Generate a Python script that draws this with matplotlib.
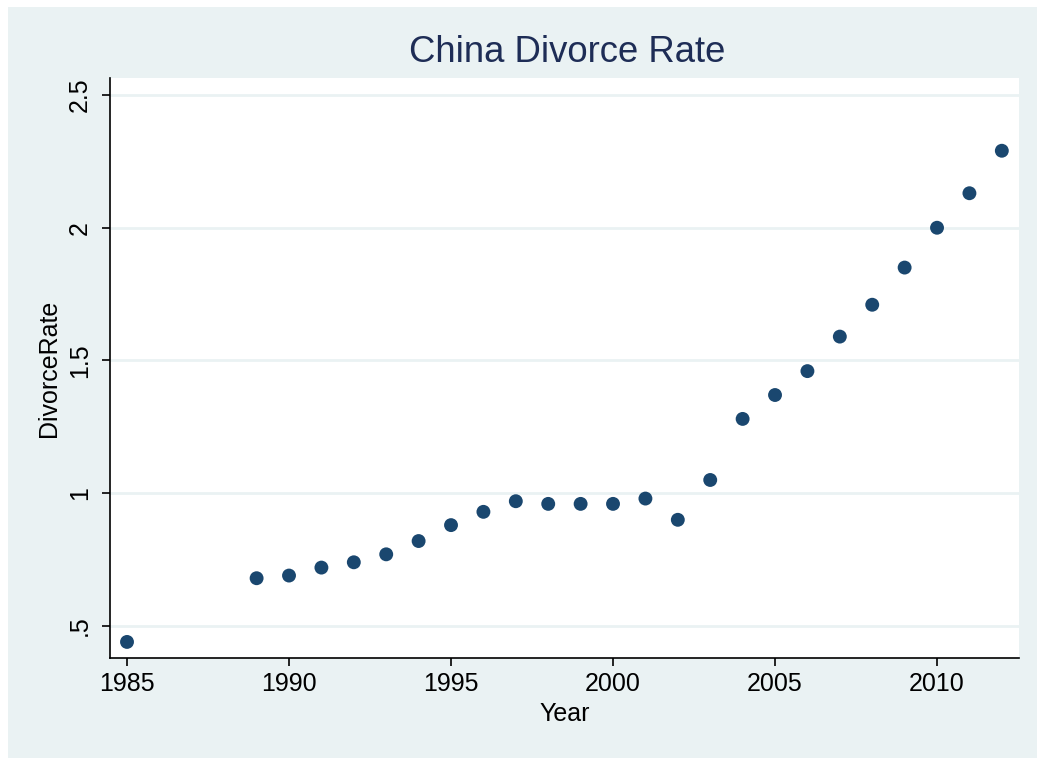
import matplotlib
matplotlib.use("Agg")
import matplotlib.pyplot as plt
from matplotlib.patches import Rectangle

years = [1985, 1989, 1990, 1991, 1992, 1993, 1994, 1995, 1996, 1997, 1998, 1999,
         2000, 2001, 2002, 2003, 2004, 2005, 2006, 2007, 2008, 2009, 2010, 2011, 2012]
divorce_rate = [0.44, 0.68, 0.69, 0.72, 0.74, 0.77, 0.82, 0.88, 0.93, 0.97, 0.96, 0.96,
                0.96, 0.98, 0.90, 1.05, 1.28, 1.37, 1.46, 1.59, 1.71, 1.85, 2.00, 2.13, 2.29]
x_ticks = [1985, 1990, 1995, 2000, 2005, 2010]
y_ticks = [0.5, 1.0, 1.5, 2.0, 2.5]
y_ticklabels = [".5", "1", "1.5", "2", "2.5"]

plt.rcParams['font.family'] = ['Liberation Sans', 'DejaVu Sans']

W, H = 1037, 758
bg = "#EAF2F3"
fig = plt.figure(figsize=(W / 100, H / 100), dpi=100)
fig.patch.set_facecolor(bg)
# thin white strips on the left and top edges
fig.add_artist(Rectangle((0, 0), 8 / W, 1, transform=fig.transFigure,
                         facecolor="white", edgecolor="none", zorder=-1))
fig.add_artist(Rectangle((0, 1 - 7 / H), 1, 7 / H, transform=fig.transFigure,
                         facecolor="white", edgecolor="none", zorder=-1))

left, right, top, bottom = 110, 1019, 78, 658
ax = fig.add_axes([left / W, 1 - bottom / H, (right - left) / W, (bottom - top) / H])
ax.set_facecolor("white")

ax.scatter(years, divorce_rate, s=10 ** 2, color="#1A476F", edgecolors="none", zorder=3)

ax.set_xlim(1984.475, 2012.53)
ax.set_ylim(0.3795, 2.564)
ax.set_xticks(x_ticks)
ax.set_xticklabels([str(t) for t in x_ticks])
ax.set_yticks(y_ticks)
ax.set_yticklabels(y_ticklabels, rotation=90, va="center")

for yv in y_ticks:
    ax.axhline(yv, color=bg, lw=2, zorder=1)

for s in ["top", "right"]:
    ax.spines[s].set_visible(False)
for s in ["left", "bottom"]:
    ax.spines[s].set_color("black")
    ax.spines[s].set_linewidth(1.2)

ax.tick_params(axis="both", direction="out", length=6, width=1.2, labelsize=18,
               colors="black")
ax.tick_params(axis="x", pad=4)
ax.tick_params(axis="y", pad=7)
ax.set_xlabel("Year", fontsize=18, labelpad=4.5)
ax.set_ylabel("DivorceRate", fontsize=18, labelpad=5)
fig.text((left + right) / 2 / W + 0.003, 1 - 52 / H, "China Divorce Rate", fontsize=26.3,
         color="#1E2D56", ha="center", va="center")

fig.savefig("out.png", dpi=100, facecolor=fig.get_facecolor())
